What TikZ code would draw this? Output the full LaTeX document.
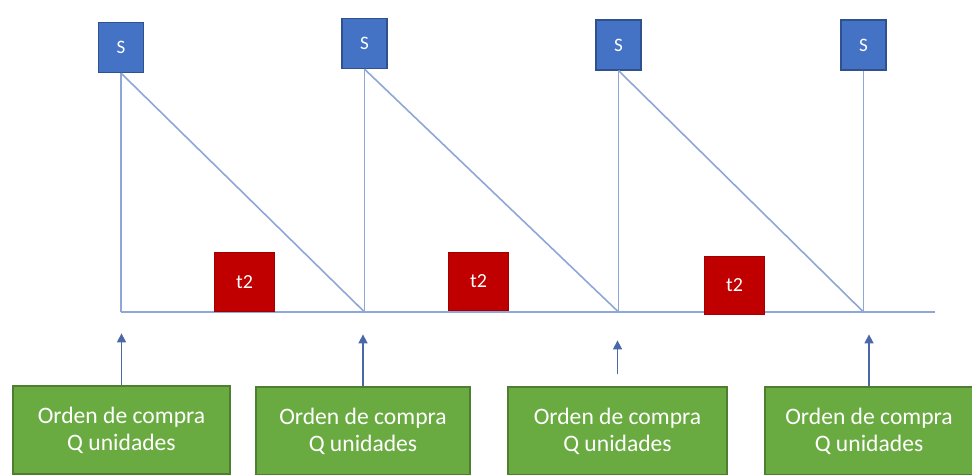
\documentclass[tikz,border=0pt]{standalone}
\usepackage{fontspec}
\setmainfont{Carlito}
\usepackage{xcolor}
\usepackage{tikz}
\usetikzlibrary{arrows.meta,positioning,calc}
\definecolor{cBlue}{HTML}{4472C4}
\definecolor{cBlueDk}{HTML}{2F528F}
\definecolor{cRed}{HTML}{C00000}
\definecolor{cRedDk}{HTML}{A00000}
\definecolor{cGreen}{HTML}{6AAB41}
\definecolor{cGreenDk}{HTML}{4E7F30}
\definecolor{cLine}{HTML}{8FA6D8}
\definecolor{cArrow}{HTML}{4A68A8}
\tikzset{
  sbox/.style={draw=cBlueDk, line width=0.6pt, fill=cBlue, text=white,
               font=\fontsize{9.5}{11}\selectfont, minimum width=22.5pt, minimum height=25pt, inner sep=0pt},
  tbox/.style={draw=cRedDk, line width=0.5pt, fill=cRed, text=white,
               font=\fontsize{10}{12}\selectfont, minimum width=30pt, minimum height=29pt, inner sep=0pt},
  obox/.style={draw=cGreenDk, line width=0.6pt, fill=cGreen, text=white, align=center,
               font=\fontsize{11.8}{13.5}\selectfont, minimum height=44pt, inner sep=2pt},
  stock/.style={draw=cLine, line width=0.8pt},
  up/.style={-{Triangle[length=4.5pt, width=4.5pt]}, line width=0.8pt, draw=cArrow},
}
\begin{document}
\begin{tikzpicture}[x=0.5pt, y=-0.5pt]
  \useasboundingbox (0,0) rectangle (972,475);
  % niveles maximos
  \node[sbox] (s1) at (121,47.5) {S};
  \node[sbox] (s2) at (364.5,43.5) {S};
  \node[sbox] (s3) at (618.5,45) {S};
  \node[sbox] (s4) at (863.5,45) {S};
  % eje de tiempo
  \coordinate (base) at (118,312);
  \coordinate (fin) at (935,312);
  \coordinate (b1) at (s1 |- base);
  \coordinate (b2) at (s2 |- base);
  \coordinate (b3) at (s3 |- base);
  \coordinate (b4) at (s4 |- base);
  \draw[stock] (b1) -- (fin);
  \draw[stock] (s1.south) -- (b1);
  \draw[stock] (s2.south) -- (b2);
  \draw[stock] (s3.south) -- (b3);
  \draw[stock] (s4.south) -- (b4);
  \draw[stock] (s1.south) -- (b2);
  \draw[stock] (s2.south) -- (b3);
  \draw[stock] (s3.south) -- (b4);
  % tiempos t2
  \node[tbox] (t1) at (244.5,282) {t2};
  \node[tbox] (t2) at (478.5,281.5) {t2};
  \node[tbox] (t3) at (734.5,285.5) {t2};
  % ordenes de compra
  \node[obox, minimum width=108.5pt] (o1) at (121.5,430) {Orden de compra\\Q unidades};
  \node[obox, minimum width=107pt] (o2) at (363,431) {Orden de compra\\Q unidades};
  \node[obox, minimum width=109.5pt] (o3) at (617.5,431) {Orden de compra\\Q unidades};
  \node[obox, minimum width=104pt] (o4) at (869,431) {Orden de compra\\Q unidades};
  \coordinate (a1) at ($(o1.north)+(0,-52)$);
  \coordinate (a2) at ($(o2.north)+(0,-52)$);
  \coordinate (a3) at ($(o3.north)+(0,-46)$);
  \coordinate (a4) at ($(o4.north)+(0,-52)$);
  \draw[up] (o1.north) -- (a1);
  \draw[up] (o2.north) -- (a2);
  \draw[up] ([yshift=6pt]o3.north) -- (a3);
  \draw[up] (o4.north) -- (a4);
\end{tikzpicture}
\end{document}
